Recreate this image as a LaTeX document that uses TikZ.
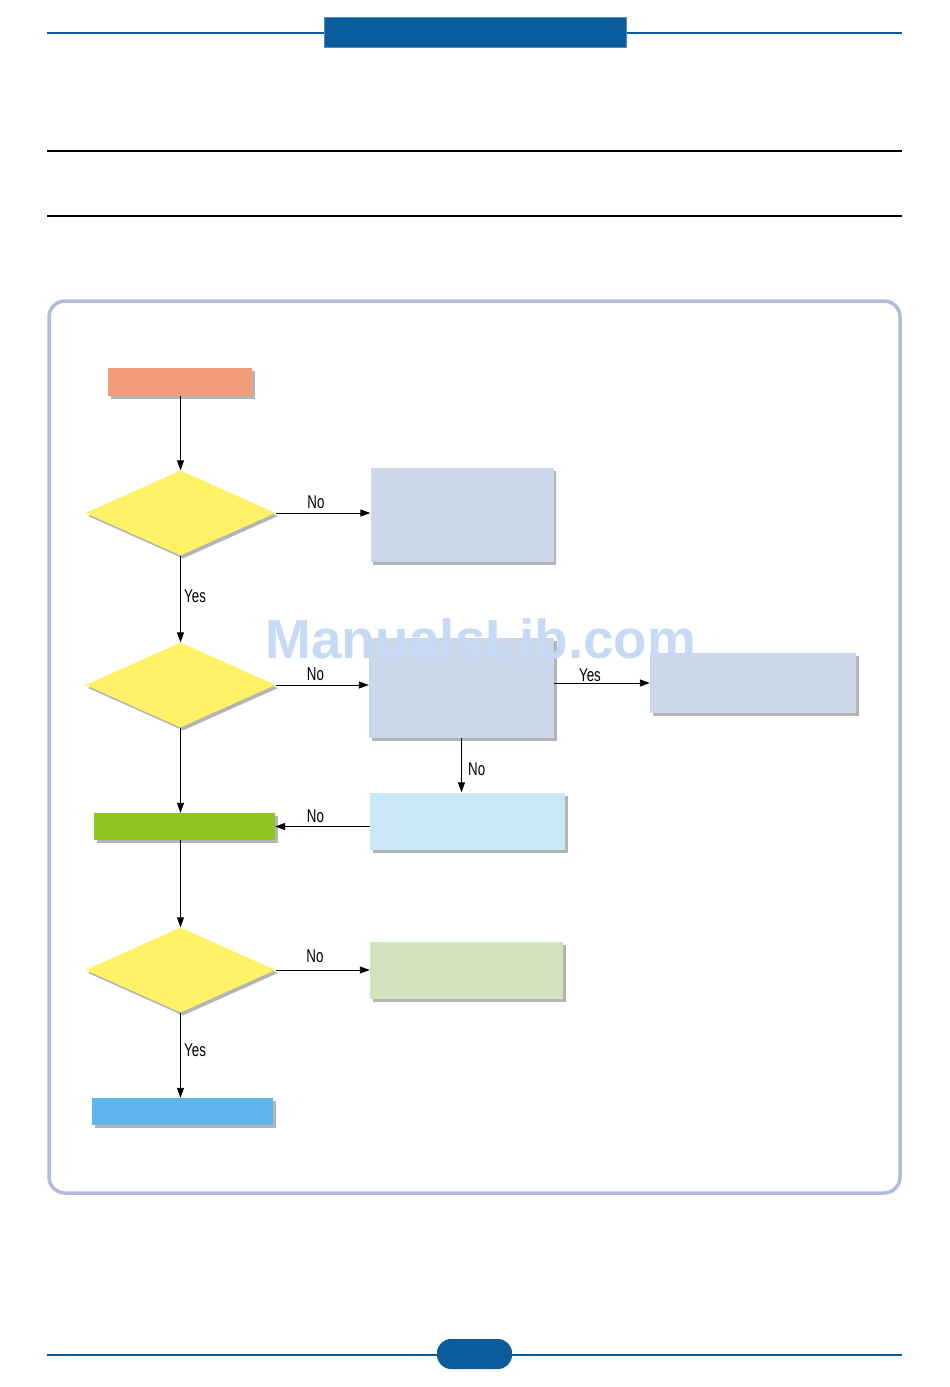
\documentclass[tikz,border=0pt]{standalone}
\usepackage{fontspec}
\setmainfont{Liberation Sans}
\usetikzlibrary{shapes.geometric,shadows,arrows.meta}
\definecolor{hdrblue}{HTML}{0A5C9C}
\definecolor{hdredge}{HTML}{4F8CC4}
\definecolor{salmon}{HTML}{F29C79}
\definecolor{dyellow}{HTML}{FFF266}
\definecolor{grayblue}{HTML}{CCD7EA}
\definecolor{lightblue}{HTML}{CAE7F6}
\definecolor{limegreen}{HTML}{91C321}
\definecolor{palegreen}{HTML}{D1E3BC}
\definecolor{skyblue}{HTML}{5EB6EA}
\definecolor{shadowgray}{HTML}{B4B4B4}
\definecolor{framecol}{HTML}{B3BBDB}
\definecolor{wmark}{HTML}{C6DAF6}
\newcommand{\lbltext}[1]{\scalebox{0.72}[1]{#1}}
\begin{document}
\begin{tikzpicture}[x=1pt,y=-1pt,
  shad/.style={general shadow={shadow xshift=2.5pt,shadow yshift=-3pt,fill=shadowgray}},
  flowbox/.style={rectangle,draw=none,inner sep=0pt,shad},
  decision/.style={diamond,draw=none,fill=dyellow,inner sep=0pt,minimum width=190pt,minimum height=85pt,shad},
  conn/.style={draw=black,line width=0.9pt,-{Triangle[length=10pt,width=7pt]}},
  lbl/.style={inner sep=0pt,font=\fontsize{18.5pt}{18.5pt}\selectfont}]
\useasboundingbox (0,0) rectangle (950,1387);
% header
\draw[hdrblue,line width=2pt] (47,33) -- (902,33);
\node[rectangle,fill=hdrblue,draw=hdredge,line width=0.8pt,inner sep=0pt,minimum width=302pt,minimum height=30pt] (hdr) at (475,32) {};
\draw[black,line width=1.2pt] (47,151) -- (902,151);
\draw[black,line width=1.2pt] (47,216) -- (902,216);
% footer
\draw[hdrblue,line width=2pt] (47,1355) -- (902,1355);
\node[rectangle,rounded corners=14pt,fill=hdrblue,inner sep=0pt,minimum width=75pt,minimum height=30pt] (pill) at (474.5,1354) {};
% frame
\draw[framecol,line width=3.5pt,rounded corners=16pt] (49,301) rectangle (900,1193);
% nodes
\node[flowbox,fill=salmon,minimum width=144pt,minimum height=28pt] (start) at (180,382) {};
\node[decision] (d1) at (180.5,513) {};
\node[flowbox,fill=grayblue,minimum width=183pt,minimum height=94pt] (box1) at (462,515) {};
\node[decision] (d2) at (180.5,685) {};
\node[flowbox,fill=grayblue,minimum width=185pt,minimum height=100pt] (box2) at (461.5,688) {};
\node[flowbox,fill=grayblue,minimum width=206pt,minimum height=60pt] (box3) at (753,683) {};
\node[flowbox,fill=lightblue,minimum width=195pt,minimum height=57pt] (box4) at (467.5,821) {};
\node[flowbox,fill=limegreen,minimum width=181pt,minimum height=27pt] (green) at (184.5,826.5) {};
\node[decision] (d3) at (180.5,970) {};
\node[flowbox,fill=palegreen,minimum width=193pt,minimum height=57pt] (box5) at (466.5,970.5) {};
\node[flowbox,fill=skyblue,minimum width=181pt,minimum height=27pt] (blue) at (182.5,1111.5) {};
% connectors
\draw[conn] (start.south -| d1.north) -- (d1.north);
\draw[conn] (d1.east) -- (d1.east -| box1.west);
\draw[conn] (d1.south) -- (d2.north);
\draw[conn] (d2.east) -- (d2.east -| box2.west);
\draw[conn] (box2.east |- box3.west) -- (box3.west);
\draw[conn] (box2.south) -- (box2.south |- box4.north);
\draw[conn] (green.east -| box4.west) -- (green.east);
\draw[conn] (d2.south) -- (d2.south |- green.north);
\draw[conn] (green.south -| d3.north) -- (d3.north);
\draw[conn] (d3.east) -- (d3.east -| box5.west);
\draw[conn] (d3.south) -- (d3.south |- blue.north);
% labels
\node[lbl,anchor=base] (l1) at (316,508) {\lbltext{No}};
\node[lbl,anchor=base west] (l2) at (184,602) {\lbltext{Yes}};
\node[lbl,anchor=base] (l3) at (315.5,680) {\lbltext{No}};
\node[lbl,anchor=base] (l4) at (590,681) {\lbltext{Yes}};
\node[lbl,anchor=base west] (l5) at (468,775) {\lbltext{No}};
\node[lbl,anchor=base] (l6) at (315.5,822) {\lbltext{No}};
\node[lbl,anchor=base] (l7) at (315,962.5) {\lbltext{No}};
\node[lbl,anchor=base west] (l8) at (184,1056) {\lbltext{Yes}};
% watermark
\node[inner sep=0pt,anchor=base,text=wmark,font=\bfseries\fontsize{55pt}{55pt}\selectfont] (wm) at (481,658) {ManualsLib.com};
\end{tikzpicture}
\end{document}
